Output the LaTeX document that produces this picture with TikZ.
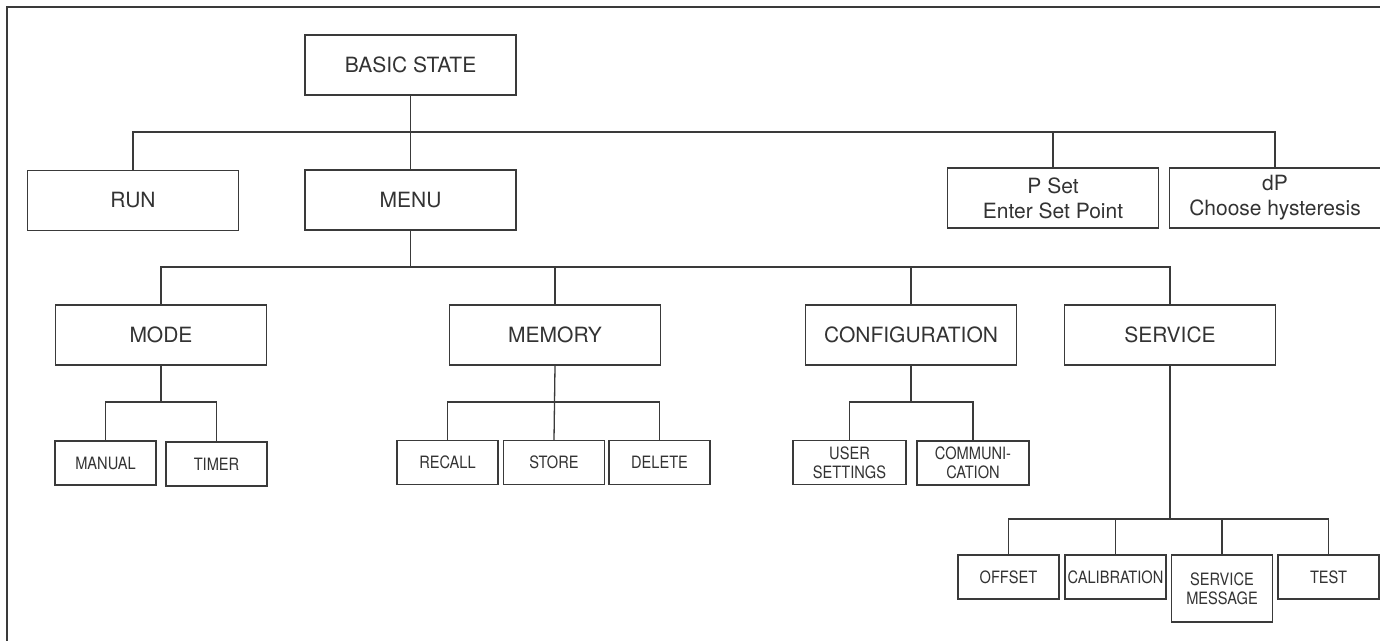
\documentclass[tikz,border=0pt]{standalone}
\usepackage{fontspec}
\setmainfont{TeX Gyre Heros}
\newfontfamily\smallface[FakeStretch=0.86]{TeX Gyre Heros}
\definecolor{ink}{HTML}{333333}
\definecolor{edge}{HTML}{3A3A3A}
\begin{document}
\begin{tikzpicture}[x=1pt,y=-1pt,
  bigbox/.style={draw=edge,line width=1.3pt,minimum width=211pt,minimum height=60pt,inner sep=0pt,
    text=ink,align=center,font=\fontsize{21}{25}\selectfont},
  smallbox/.style={draw=edge,line width=1.3pt,minimum width=101pt,minimum height=44pt,inner sep=0pt,
    text=ink,align=center,font=\smallface\fontsize{17}{19}\selectfont},
  link/.style={draw=edge,line width=1.3pt}]
\useasboundingbox (0,0) rectangle (1380,640);
\fill[white] (0,0) rectangle (1380,640);
\draw[edge,line width=2.6pt] (7,700) -- (7,7) -- (1440,7);
% level 0/1
\node[bigbox] (basic) at (410.5,65) {BASIC STATE};
\node[bigbox] (run) at (133,200.5) {RUN};
\node[bigbox] (menu) at (410.5,200) {MENU};
\node[bigbox] (pset) at (1053,198) {P Set\\Enter Set Point};
\node[bigbox] (dp) at (1275,198) {dP\\Choose hysteresis};
% level 2
\node[bigbox] (mode) at (161,335) {MODE};
\node[bigbox] (memory) at (555,335) {MEMORY};
\node[bigbox] (config) at (911,335) {CONFIGURATION};
\node[bigbox] (service) at (1170,335) {SERVICE};
% level 3
\node[smallbox] (manual) at (105.5,463) {MANUAL};
\node[smallbox] (timer) at (216.5,464) {TIMER};
\node[smallbox] (recall) at (447.5,462.5) {RECALL};
\node[smallbox] (store) at (554,462.5) {STORE};
\node[smallbox] (delete) at (659.5,462.5) {DELETE};
\node[smallbox,minimum width=113pt] (user) at (849.5,462.5) {USER\\SETTINGS};
\node[smallbox,minimum width=112pt] (comm) at (973,463) {COMMUNI-\\CATION};
\node[smallbox] (offset) at (1008.5,577) {OFFSET};
\node[smallbox] (calib) at (1115.5,577) {CALIBRATION};
\node[smallbox,minimum height=67pt] (smsg) at (1222,588.5) {SERVICE\\MESSAGE};
\node[smallbox] (test) at (1328.5,577) {TEST};
% bus coordinates
\coordinate (b1) at (0,132);
\coordinate (b2) at (0,267);
\coordinate (b3) at (0,402);
\coordinate (b4) at (0,519);
% connectors
\draw[link] (basic.south) -- (menu.north);
\draw[link] (run.north) -- (run.north |- b1) -- (dp.north |- b1) -- (dp.north);
\draw[link] (pset.north) -- (pset.north |- b1);
\draw[link] (menu.south) -- (menu.south |- b2);
\draw[link] (mode.north) -- (mode.north |- b2) -- (service.north |- b2) -- (service.north);
\draw[link] (memory.north) -- (memory.north |- b2);
\draw[link] (config.north) -- (config.north |- b2);
\draw[link] (mode.south) -- (mode.south |- b3);
\draw[link] (manual.north) -- (manual.north |- b3) -- (timer.north |- b3) -- (timer.north);
\draw[link] (recall.north) -- (recall.north |- b3) -- (delete.north |- b3) -- (delete.north);
\draw[link] (memory.south) -- (store.north);
\draw[link] (config.south) -- (config.south |- b3);
\draw[link] (user.north) -- (user.north |- b3) -- (comm.north |- b3) -- (comm.north);
\draw[link] (service.south) -- (service.south |- b4);
\draw[link] (offset.north) -- (offset.north |- b4) -- (test.north |- b4) -- (test.north);
\draw[link] (calib.north) -- (calib.north |- b4);
\draw[link] (smsg.north) -- (smsg.north |- b4);
\end{tikzpicture}
\end{document}
